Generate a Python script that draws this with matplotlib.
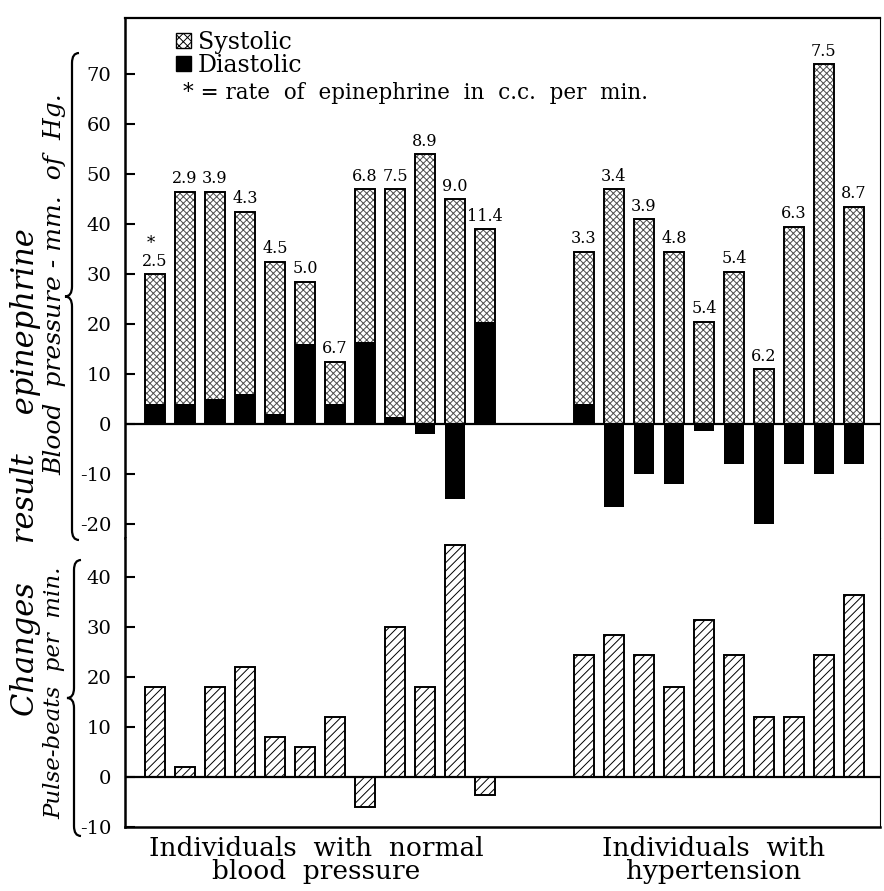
import matplotlib.pyplot as plt
from matplotlib.patches import Patch, PathPatch
from matplotlib.path import Path
import numpy as np

plt.rcParams['font.family'] = 'DejaVu Serif'
plt.rcParams['axes.unicode_minus'] = False
plt.rcParams['hatch.linewidth'] = 0.7

# epinephrine rate (c.c. per min) printed above each bar
normal_rate = ["2.5", "2.9", "3.9", "4.3", "4.5", "5.0", "6.7", "6.8", "7.5", "8.9", "9.0", "11.4"]
hyper_rate = ["3.3", "3.4", "3.9", "4.8", "5.4", "5.4", "6.2", "6.3", "7.5", "8.7"]

# blood pressure change, mm Hg
normal_sys = [30, 46.5, 46.5, 42.5, 32.5, 28.5, 12.5, 47, 47, 54, 45, 39]
normal_dia = [4, 4, 5, 6, 2, 16, 4, 16.5, 1.5, -2, -15, 20.5]
hyper_sys = [34.5, 47, 41, 34.5, 20.5, 30.5, 11, 39.5, 72, 43.5]
hyper_dia = [4, -16.5, -10, -12, -1.3, -8, -20, -8, -10, -8]

# pulse change, beats per min
normal_pulse = [18, 2, 18, 22, 8, 6, 12, -6, 30, 18, 46.5, -3.5]
hyper_pulse = [24.5, 28.5, 24.5, 18, 31.5, 24.5, 12, 12, 24.5, 36.5]

W, H = 884, 891


def fx(px):
    return px / W


def fy(py):
    return 1 - py / H


def brace(fig, x, y0, y1, w=7, r=10):
    ym = (y0 + y1) / 2
    pts = [(x + w, y0), (x, y0), (x, y0 + r),
           (x, ym - r), (x, ym), (x - w, ym),
           (x, ym), (x, ym + r),
           (x, y1 - r), (x, y1), (x + w, y1)]
    codes = [Path.MOVETO, Path.CURVE3, Path.CURVE3,
             Path.LINETO, Path.CURVE3, Path.CURVE3,
             Path.CURVE3, Path.CURVE3,
             Path.LINETO, Path.CURVE3, Path.CURVE3]
    verts = [(fx(a), fy(b)) for a, b in pts]
    fig.patches.append(PathPatch(Path(verts, codes), transform=fig.transFigure,
                                 fill=False, lw=1.6, color='black'))


fig = plt.figure(figsize=(8.84, 8.91), dpi=100)
ax1 = fig.add_axes([fx(125), fy(538), fx(880) - fx(125), fy(18) - fy(538)])
ax2 = fig.add_axes([fx(125), fy(827), fx(880) - fx(125), fy(538) - fy(827)], sharex=ax1)

xn = np.arange(len(normal_sys))
xh = 14.3 + np.arange(len(hyper_sys))
x = np.concatenate([xn, xh])
w = 0.68

sys_all = normal_sys + hyper_sys
dia_all = normal_dia + hyper_dia
pulse_all = normal_pulse + hyper_pulse
rates = normal_rate + hyper_rate

# blood pressure panel
ax1.bar(x, sys_all, width=w, color='white', edgecolor='0.3', hatch='xxxxx', lw=0, zorder=2)
ax1.bar(x, dia_all, width=w, color='black', lw=0, zorder=3)
ax1.bar(x, sys_all, width=w, fill=False, edgecolor='black', lw=1.4, zorder=4)
ax1.axhline(0, color='black', lw=1.6, zorder=5)
for xi, top, lab in zip(x, sys_all, rates):
    ax1.annotate(lab, (xi, top), xytext=(0, 3), textcoords='offset points',
                 ha='center', va='bottom', fontsize=11.5)
ax1.annotate("*", (x[0], sys_all[0]), xytext=(-3, 16), textcoords='offset points',
             ha='center', va='bottom', fontsize=12)

ax1.set_ylim(-22.8, 81.2)
ax1.set_yticks(range(-20, 71, 10))
ax1.spines['bottom'].set_visible(False)
ax1.spines['right'].set_linewidth(0.8)

handles = [Patch(facecolor='white', edgecolor='black', hatch='xxxx', label='Systolic'),
           Patch(facecolor='black', edgecolor='black', label='Diastolic')]
ax1.legend(handles=handles, loc='upper left', bbox_to_anchor=(0.068, 0.975),
           frameon=False, fontsize=17, handlelength=0.6, handleheight=0.6,
           handletextpad=0.3, labelspacing=0.0, borderpad=0, borderaxespad=0)
ax1.text(0.077, 0.856, "* = rate  of  epinephrine  in  c.c.  per  min.",
         transform=ax1.transAxes, fontsize=15.5, va='center', ha='left')

# pulse panel
ax2.bar(x, pulse_all, width=w, color='white', edgecolor='black', hatch='////', lw=1.4, zorder=2)
ax2.axhline(0, color='black', lw=1.6, zorder=5)
ax2.set_ylim(-10, 47.8)
ax2.set_yticks(range(-10, 41, 10))
ax2.spines['top'].set_visible(False)
ax2.spines['right'].set_linewidth(0.8)

ax1.set_xlim(-1.0, 24.17)
for ax in (ax1, ax2):
    ax.tick_params(axis='y', direction='in', length=7, width=1.5, pad=10, labelsize=14)
    ax.tick_params(axis='x', bottom=False, labelbottom=False)
    ax.spines['left'].set_linewidth(1.8)
ax1.spines['top'].set_linewidth(1.6)
ax2.spines['bottom'].set_linewidth(1.8)

# axis titles and braces
fig.text(fx(26), fy(472), "Changes    result    epinephrine", rotation=90,
         style='italic', fontsize=22, ha='center', va='center')
fig.text(fx(55), fy(284), "Blood  pressure - mm.  of  Hg.", rotation=90,
         style='italic', fontsize=18, ha='center', va='center')
fig.text(fx(54), fy(693), "Pulse-beats  per  min.", rotation=90,
         style='italic', fontsize=16.5, ha='center', va='center')
brace(fig, 72, 53, 540)
brace(fig, 74, 560, 836)

fig.text(fx(316), fy(860), "Individuals  with  normal\nblood  pressure", ha='center',
         va='center', fontsize=19, multialignment='center', linespacing=0.95)
fig.text(fx(714), fy(860), "Individuals  with\nhypertension", ha='center',
         va='center', fontsize=19, multialignment='center', linespacing=0.95)

fig.savefig('out.png', dpi=100)
